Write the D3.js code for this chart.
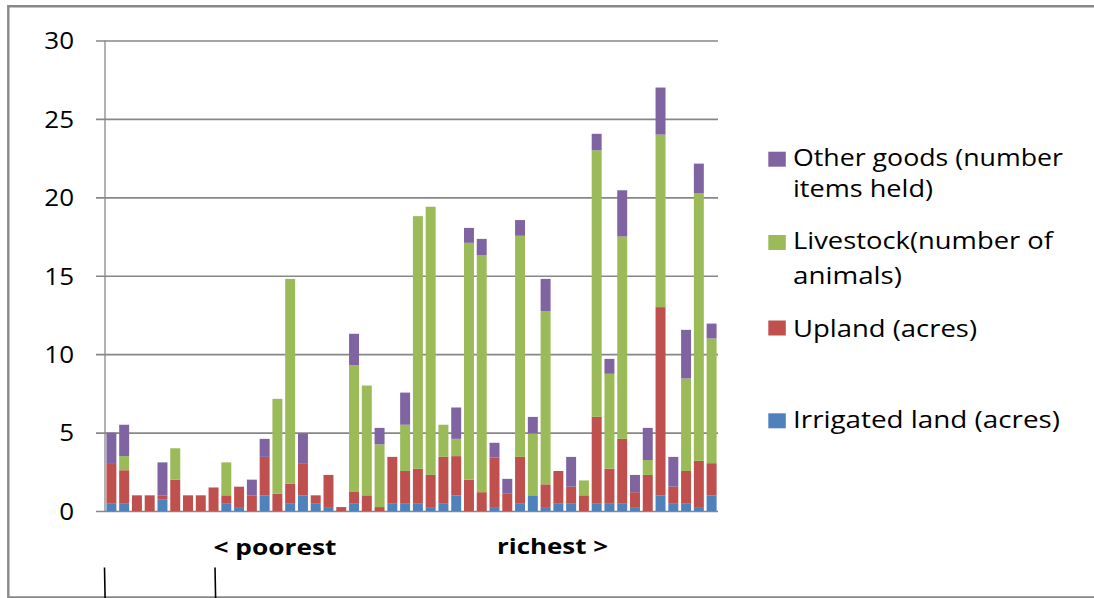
<!DOCTYPE html>
<html>
<head>
<meta charset="utf-8">
<script src="https://cdn.jsdelivr.net/npm/d3@7"></script>
<style>
  html, body { margin: 0; padding: 0; background: #fff; }
  svg { display: block; }
  text { font-family: "Open Sans", "Noto Sans", sans-serif; fill: #000; }
</style>
</head>
<body>
<svg id="chart" width="1094" height="598"></svg>
<script>
// Households ordered from poorest (left) to richest (right)
const households = d3.range(1, 49);

// Holdings per household, one array per asset type
const irrigated = [0.5, 0.5, 0, 0, 0.75, 0, 0, 0, 0, 0.5, 0.25, 0,
                   1.0, 0, 0.5, 1.0, 0.5, 0.25, 0, 0.5, 0, 0, 0.5, 0.5,
                   0.5, 0.25, 0.5, 1.0, 0, 0, 0.25, 0, 0.5, 1.0, 0.25, 0.5,
                   0.5, 0, 0.5, 0.5, 0.5, 0.25, 0, 1.0, 0.5, 0.5, 0.2, 1.0];
const upland = [2.5, 2.1, 1.0, 1.0, 0.25, 2.0, 1.0, 1.0, 1.5, 0.5, 1.3, 1.0,
                2.45, 1.1, 1.25, 2.05, 0.5, 2.05, 0.25, 0.75, 1.0, 0.25, 2.95, 2.05,
                2.2, 2.05, 2.95, 2.5, 2.0, 1.2, 3.15, 1.1, 2.95, 0, 1.45, 2.05,
                1.05, 1.0, 5.5, 2.2, 4.1, 0.95, 2.3, 12.0, 1.05, 2.05, 3.0, 2.05];
const livestock = [0, 0.9, 0, 0, 0, 2.0, 0, 0, 0, 2.1, 0, 0,
                   0, 6.05, 13.05, 0, 0, 0, 0, 8.05, 7.0, 4.0, 0, 2.95,
                   16.1, 17.1, 2.05, 1.1, 15.1, 15.1, 0, 0, 14.1, 3.95, 11.05, 0,
                   0, 0.95, 17.0, 6.05, 12.9, 0, 0.95, 11.0, 0, 5.9, 17.05, 7.95];
const other = [2.0, 2.0, 0, 0, 2.1, 0, 0, 0, 0, 0, 0, 1.0,
               1.15, 0, 0, 1.9, 0, 0, 0, 2.0, 0, 1.05, 0, 2.05,
               0, 0, 0, 2.0, 0.95, 1.05, 0.95, 0.95, 1.0, 1.05, 2.05, 0,
               1.9, 0, 1.05, 0.95, 2.95, 1.1, 2.05, 3.0, 1.9, 3.1, 1.9, 0.95];

const yTicks = [0, 5, 10, 15, 20, 25, 30];

const seriesKeys = ["irrigated", "upland", "livestock", "other"];
const seriesColors = {
  irrigated: "#4F81BD",
  upland: "#C0504D",
  livestock: "#9BBB59",
  other: "#8064A2"
};
const legendItems = [
  { key: "other", lines: ["Other goods (number", "items held)"] },
  { key: "livestock", lines: ["Livestock(number of", "animals)"] },
  { key: "upland", lines: ["Upland (acres)"] },
  { key: "irrigated", lines: ["Irrigated land (acres)"] }
];
const captions = ["< poorest", "richest >"];

// Table for the stack layout
const table = households.map((h, i) => ({
  household: h,
  irrigated: irrigated[i],
  upland: upland[i],
  livestock: livestock[i],
  other: other[i]
}));

const svg = d3.select("#chart");
const plot = { left: 105, right: 718, top: 40.5, bottom: 511 };

const x = d3.scaleBand()
  .domain(households)
  .range([plot.left, plot.right])
  .paddingInner(0.22)
  .paddingOuter(0.11);

const y = d3.scaleLinear()
  .domain([0, 30])
  .range([plot.bottom, plot.top]);

// Stretch text horizontally to a given width
function fitWidth(node, w) {
  node.setAttribute("textLength", w);
  node.setAttribute("lengthAdjust", "spacingAndGlyphs");
}

// Outer frame
const frame = svg.append("g").attr("stroke", "#888").attr("fill", "none");
frame.append("path")
  .attr("d", "M1094,6.2 H8.3 V597.5 H1094")
  .attr("stroke-width", 2.4);

// Gridlines, tick marks and value labels
const yAxis = svg.append("g")
  .attr("transform", `translate(${plot.left - 9},0)`)
  .call(d3.axisLeft(y)
    .tickValues(yTicks)
    .tickSizeInner(-(plot.right - plot.left + 9))
    .tickSizeOuter(0)
    .tickPadding(22));
yAxis.select(".domain").remove();
yAxis.selectAll(".tick line")
  .attr("stroke", "#878787")
  .attr("stroke-width", 1.6);
yAxis.selectAll(".tick text")
  .attr("font-size", 23)
  .attr("dy", "0.36em")
  .style("font-family", '"Open Sans", sans-serif')
  .attr("fill", "#111")
  .each(function () { fitWidth(this, this.getComputedTextLength() * 1.13); });

// Vertical axis line
svg.append("line")
  .attr("x1", plot.left).attr("x2", plot.left)
  .attr("y1", y(30)).attr("y2", y(0))
  .attr("stroke", "#878787")
  .attr("stroke-width", 1.3);

// Stacked bars
const stacked = d3.stack().keys(seriesKeys)(table);
svg.append("g")
  .selectAll("g")
  .data(stacked)
  .join("g")
  .attr("fill", d => seriesColors[d.key])
  .selectAll("rect")
  .data(d => d)
  .join("rect")
  .attr("x", d => x(d.data.household))
  .attr("width", x.bandwidth())
  .attr("y", d => y(d[1]))
  .attr("height", d => y(d[0]) - y(d[1]));

// Legend
const legendBoxes = { other: 151.7, livestock: 235, upland: 320.5, irrigated: 413.3 };
const legendBaselines = {
  other: [165.7, 196.5],
  livestock: [249.3, 283.5],
  upland: [336.7],
  irrigated: [428.3]
};
const legendWidths = {
  other: [270, 140],
  livestock: [260, 109],
  upland: [184],
  irrigated: [267]
};
const legend = svg.append("g");
legendItems.forEach(item => {
  legend.append("rect")
    .attr("x", 768.3)
    .attr("y", legendBoxes[item.key])
    .attr("width", 17.5)
    .attr("height", 15)
    .attr("fill", seriesColors[item.key]);
  item.lines.forEach((line, j) => {
    legend.append("text")
      .attr("x", 793)
      .attr("y", legendBaselines[item.key][j])
      .attr("font-size", 23)
      .attr("fill", "#111")
      .text(line)
      .each(function () { fitWidth(this, legendWidths[item.key][j]); });
  });
});

// Direction captions under the bars
const captionPos = [{ x: 213.5, w: 123, y: 554.5 }, { x: 497, w: 111, y: 553.5 }];
svg.append("g")
  .selectAll("text")
  .data(captions)
  .join("text")
  .attr("x", (d, i) => captionPos[i].x)
  .attr("y", (d, i) => captionPos[i].y)
  .attr("font-size", 22)
  .attr("font-weight", 700)
  .text(d => d)
  .each(function (d, i) { fitWidth(this, captionPos[i].w); });

// Bracket marks at the bottom edge
svg.append("g")
  .attr("stroke", "#000")
  .attr("stroke-width", 1.6)
  .selectAll("line")
  .data([104.5, 215])
  .join("line")
  .attr("x1", d => d).attr("x2", d => d + 0.6)
  .attr("y1", 567.5).attr("y2", 598);
</script>
</body>
</html>
